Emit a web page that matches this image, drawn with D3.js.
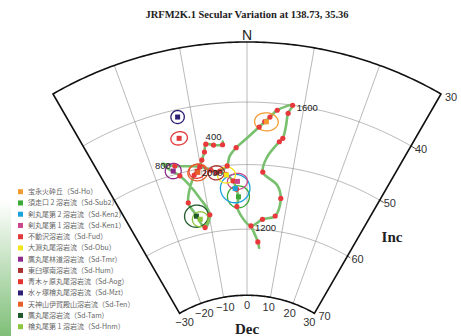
<!DOCTYPE html>
<html><head><meta charset="utf-8">
<script src="https://cdn.jsdelivr.net/npm/d3@7"></script>
<style>body{margin:0;background:#fff}svg{display:block}</style>
</head><body>
<svg id="c" width="461" height="336"></svg>
<script>
// ---------- data ----------
const titleText = "JRFM2K.1 Secular Variation at 138.73, 35.36";
const decTicks = [-30, -20, -10, 0, 10, 20, 30];
const incTicks = [30, 40, 50, 60, 70];
const decGrid = [-20, -10, 0, 10, 20];
const incGrid = [40, 50, 60];

// secular variation curve (JRFM2K.1), declination / inclination, dot flag
const curveDec = [-4.8,-4.9,-6.7,-8.2,-8.7,-9.5,-10.2,-11.7,-14.5,-13.5,-11.7,-9.8,-11.5,-14.8,-16.5,-17.7,-15.3,-12.8,-10.1,-7.9,-4.7,-3.2,-2.5,-2.1,-2.6,1.1,4.2,7.5,8.3,7.0,3.5,4.2,6.4,7.0,7.3,7.4,8.0,5.4,4.2,3.3,2.3,0.0,-2.2,-3.7,-4.3,-6.0];
const curveInc = [46.2,46.7,46.6,46.3,47.5,48.7,49.7,50.8,54.8,56.6,59.1,57.3,54.5,50.4,49.1,47.8,48.7,49.2,49.7,50.5,51.4,52.5,53.8,55.2,56.5,59.5,58.4,57.7,54.9,52.9,51.1,48.7,46.1,45.5,43.5,41.4,40.0,41.1,42.3,43.1,44.0,45.8,47.3,48.7,50.1,50.8];
const curveDot = [0,1,1,1,1,1,1,1,1,0,1,1,0,1,0,0,1,0,0,1,1,1,1,0,1,1,1,1,1,0,1,0,1,1,0,1,1,1,1,1,1,0,1,0,1,1];
const tailDec = [1.1, 3.3, 3.8];
const tailInc = [59.5, 61.9, 62.8];
const tailDot = [0, 1, 0];
const yearLabels = ["400", "800", "1200", "1600", "2000"];
const yearIndex = [2, 16, 25, 36, 45];

// paleomagnetic sites
const siteNames = ["宝永火砕丘","須走口 2 溶岩流","剣丸尾第 2 溶岩流","剣丸尾第 1 溶岩流","不動沢溶岩流","大淵丸尾溶岩流","鷹丸尾林道溶岩流","東臼塚南溶岩流","青木ヶ原丸尾溶岩流","水ヶ塚檜丸尾溶岩流","天神山伊賀殿山溶岩流","鷹丸尾溶岩流","檜丸尾第 1 溶岩流"];
const siteCodes = ["Sd-Ho","Sd-Sub2","Sd-Ken2","Sd-Ken1","Sd-Fud","Sd-Obu","Sd-Tmr","Sd-Hum","Sd-Aog","Sd-Mzt","Sd-Ten","Sd-Tam","Sd-Hnm"];
const siteColors = ["#f29b30","#3aa935","#1ba1dc","#c9478a","#e3393a","#f3e41c","#8e2a8b","#a9322f","#e5332e","#2e1f76","#e7602a","#1f5a2a","#8cc63e"];
const siteDec = [3.6,-2.1,-2.8,-2.2,-13.1,-4.6,-15.9,-6.8,-10.9,-12.5,-10.8,-13.3,-12.5];
const siteInc = [43.1,55.0,53.7,52.6,44.6,51.5,49.4,51.0,50.3,41.2,50.5,57.1,57.7];
const siteDecErr = [2.2,2.7,3.5,2.3,1.6,2.0,1.7,1.8,1.8,1.2,2.2,3.1,2.1];
const siteIncErr = [1.45,1.7,2.2,1.25,1.05,1.25,1.2,1.1,1.1,1.05,1.3,1.7,1.15];

// ---------- projection (equal-area, centred on Inc = 90) ----------
const CX = 247, CY = 430;
const angle = d3.scaleLinear().domain([-90, 90]).range([-Math.PI / 2, Math.PI / 2]);
const radius = d3.scaleLinear().domain([0, 1]).range([0, 776]);
function rOf(inc) { return radius(Math.sin((90 - inc) * Math.PI / 360)); }
function P(dec, inc) { const a = angle(dec), r = rOf(inc); return [CX + r * Math.sin(a), CY - r * Math.cos(a)]; }

const svg = d3.select("#c");
const line = d3.line();

// left decorative gradient strip
const defs = svg.append("defs");
const lg = defs.append("linearGradient").attr("id", "gstrip").attr("x1", 0).attr("y1", 0).attr("x2", 0).attr("y2", 1);
lg.append("stop").attr("offset", "0%").attr("stop-color", "#ffffff");
lg.append("stop").attr("offset", "100%").attr("stop-color", "#7fbf78");
svg.append("rect").attr("x", 0).attr("y", 200).attr("width", 11).attr("height", 136).attr("fill", "url(#gstrip)");

// title
svg.append("text").attr("x", CX).attr("y", 18).attr("text-anchor", "middle")
  .attr("font-family", "Liberation Serif, Times New Roman, serif").attr("font-weight", "bold")
  .attr("font-size", 10.5).attr("fill", "#222").text(titleText);

const g = svg.append("g");
function arc(inc, d0, d1) { return d3.range(d0, d1 + 0.001, 0.5).map(d => P(d, inc)); }

// grid
decGrid.forEach(d => g.append("path").attr("d", line([P(d, 30), P(d, 70)])).attr("stroke", "#8a8a8a").attr("stroke-width", 0.6).attr("fill", "none"));
incGrid.forEach(i => g.append("path").attr("d", line(arc(i, -30, 30))).attr("stroke", "#8a8a8a").attr("stroke-width", 0.6).attr("fill", "none"));
// tick marks outside right edge
incGrid.forEach(i => { const p = P(30, i), q = P(31, i); g.append("path").attr("d", line([p, q])).attr("stroke", "#222").attr("stroke-width", 0.8); });

// border
const border = arc(30, -30, 30).concat(arc(70, -30, 30).reverse());
g.append("path").attr("d", line(border) + "Z").attr("stroke", "#111").attr("stroke-width", 1.6).attr("fill", "none").attr("stroke-linejoin", "miter");

// N
svg.append("text").attr("x", CX).attr("y", P(0, 30)[1] - 2).attr("text-anchor", "middle")
  .attr("font-family", "Liberation Sans, Arial, sans-serif").attr("font-size", 14).attr("fill", "#222").text("N");

// Dec tick labels
const r70 = rOf(70);
decTicks.forEach(d => {
  const a = angle(d), r = r70 - 10;
  svg.append("text").attr("x", CX + r * Math.sin(a)).attr("y", CY - r * Math.cos(a)).attr("dy", "0.35em")
    .attr("text-anchor", "middle").attr("font-family", "Liberation Sans, Arial, sans-serif").attr("font-size", 11).attr("fill", "#333")
    .text(d < 0 ? "\u2212" + Math.abs(d) : String(d));
});
// Inc tick labels
incTicks.forEach(i => {
  const p = P(30, i);
  svg.append("text").attr("x", p[0] + 4).attr("y", p[1] + 3).attr("dy", "0.35em")
    .attr("text-anchor", "start").attr("font-family", "Liberation Sans, Arial, sans-serif").attr("font-size", 11).attr("fill", "#333")
    .text(i);
});
svg.append("text").attr("x", 392).attr("y", 242).attr("text-anchor", "middle").attr("font-family", "Liberation Serif, Times New Roman, serif")
  .attr("font-weight", "bold").attr("font-size", 15).attr("fill", "#222").text("Inc");
svg.append("text").attr("x", CX).attr("y", 334).attr("text-anchor", "middle").attr("font-family", "Liberation Serif, Times New Roman, serif")
  .attr("font-weight", "bold").attr("font-size", 15).attr("fill", "#222").text("Dec");

// curve
const curvePts = curveDec.map((d, i) => P(d, curveInc[i]));
const tailPts = tailDec.map((d, i) => P(d, tailInc[i]));
const smooth = d3.line().curve(d3.curveCatmullRom.alpha(0.5));
const GREEN = "#78c06e";
g.append("path").attr("d", smooth(curvePts)).attr("stroke", GREEN).attr("stroke-width", 2.6).attr("fill", "none").attr("stroke-linecap", "round");
g.append("path").attr("d", smooth(tailPts)).attr("stroke", GREEN).attr("stroke-width", 2.6).attr("fill", "none").attr("stroke-linecap", "round");

// site ellipses
siteDec.forEach((d, i) => {
  const pts = d3.range(0, 361, 6).map(t => { const tr = t * Math.PI / 180; return P(d + siteDecErr[i] * Math.cos(tr), siteInc[i] + siteIncErr[i] * Math.sin(tr)); });
  g.append("path").attr("d", line(pts) + "Z").attr("stroke", siteColors[i]).attr("stroke-width", 1.3).attr("fill", "none");
});

// dots
const RED = "#e8383b";
curvePts.forEach((p, i) => { if (curveDot[i]) g.append("circle").attr("cx", p[0]).attr("cy", p[1]).attr("r", 2.6).attr("fill", RED); });
tailPts.forEach((p, i) => { if (tailDot[i]) g.append("circle").attr("cx", p[0]).attr("cy", p[1]).attr("r", 2.6).attr("fill", RED); });

// site squares
siteDec.forEach((d, i) => {
  const p = P(d, siteInc[i]);
  g.append("rect").attr("x", p[0] - 2.5).attr("y", p[1] - 2.5).attr("width", 5).attr("height", 5).attr("fill", siteColors[i]);
});

// year labels
yearLabels.forEach((t, k) => {
  const p = curvePts[yearIndex[k]];
  let x = p[0], y = p[1], anchor = "start";
  if (t === "400") { y = p[1] - 8; anchor = "middle"; }
  else if (t === "800") { x = p[0] - 4; anchor = "end"; }
  else if (t === "2000") { x = p[0] + 3; y = p[1] + 2; anchor = "end"; }
  else { x = p[0] + 4; y = p[1] + 2; }
  svg.append("text").attr("x", x).attr("y", y).attr("dy", "0.35em").attr("text-anchor", anchor)
    .attr("font-family", "Liberation Sans, Arial, sans-serif").attr("font-size", 9.5).attr("fill", "#222").text(t);
});

// legend
const lgY0 = 191.7, lgStep = 11.25;
siteNames.forEach((n, i) => {
  const y = lgY0 + i * lgStep;
  svg.append("rect").attr("x", 18).attr("y", y - 2.5).attr("width", 5).attr("height", 5).attr("fill", siteColors[i]);
  svg.append("text").attr("x", 28).attr("y", y).attr("dy", "0.35em").attr("font-family", "Noto Sans CJK JP, sans-serif")
    .attr("font-size", 7).attr("fill", "#666").text(n + "（" + siteCodes[i] + "）");
});
</script>
</body></html>
